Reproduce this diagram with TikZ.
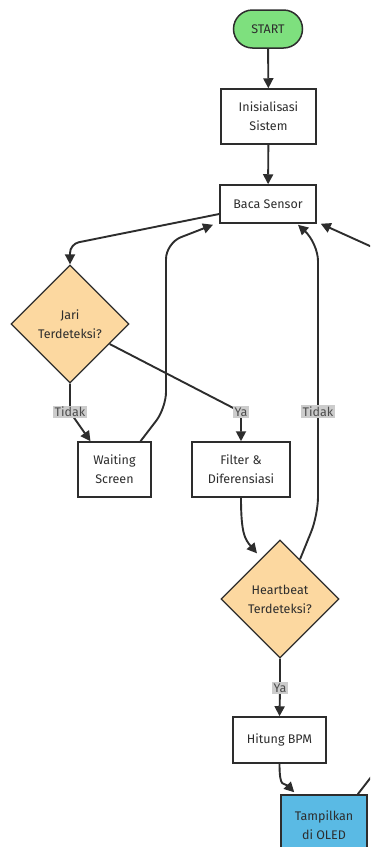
\documentclass[tikz,border=0pt]{standalone}
\usepackage{fontspec}
\setmainfont{Fira Sans}
\usetikzlibrary{shapes.geometric,arrows.meta}
\definecolor{startgreen}{RGB}{126,224,126}
\definecolor{checkorange}{RGB}{252,216,160}
\definecolor{oledblue}{RGB}{90,186,228}
\definecolor{labelgray}{RGB}{204,204,204}
\definecolor{ink}{RGB}{45,45,45}
\begin{document}
\begin{tikzpicture}[
      x=1pt, y=-1pt,
      every node/.style={font=\fontsize{12.5}{19}\selectfont, text=ink, align=center},
      terminal/.style={rectangle, rounded corners=19pt, draw=ink, line width=1.5pt, fill=startgreen, minimum width=69, minimum height=38},
      box/.style={rectangle, draw=ink, line width=1.5pt, fill=white},
      check/.style={diamond, draw=ink, line width=1.3pt, fill=checkorange, minimum width=118, minimum height=118, inner sep=0pt},
      flow/.style={draw=ink, line width=1.9pt, -{Triangle[length=10pt,width=10pt]}},
      lbl/.style={sharp corners, fill=labelgray, text=ink!85, inner sep=1.5pt, font=\fontsize{12.5}{14}\selectfont}
    ]
    \useasboundingbox (0,0) rectangle (370,847);
    \clip (0,0) rectangle (370,847);

    % nodes
    \node[terminal] (start) at (268,29) {START};
    \node[box, minimum width=95, minimum height=55] (init) at (268.5,116.5) {Inisialisasi\\Sistem};
    \node[box, minimum width=96, minimum height=38] (baca) at (268,204) {Baca Sensor};
    \node[check] (jari) at (70,324) {Jari\\Terdeteksi?};
    \node[box, minimum width=73, minimum height=55] (wait) at (114.5,469.5) {Waiting\\Screen};
    \node[box, minimum width=98, minimum height=55] (filter) at (241,469.5) {Filter \&\\Diferensiasi};
    \node[check] (heart) at (280,599) {Heartbeat\\Terdeteksi?};
    \node[box, minimum width=93, minimum height=46] (bpm) at (279.5,740) {Hitung BPM};
    \node[box, fill=oledblue, minimum width=86, minimum height=60] (oled) at (324,825) {Tampilkan\\di OLED};

    % connectors
    \draw[flow] (start) -- (init);
    \draw[flow] (init) -- (baca);
    \draw[flow, rounded corners=9pt] ([shift={(0,10)}]baca.west) -- (70,244) -- (jari.north);
    \draw[flow] (jari.south) -- (70,412) node[lbl] {Tidak} -- ([shift={(-24,0)}]wait.north);
    \draw[flow, rounded corners=16pt] ([shift={(26,0)}]wait.north) -- (166,408) -- (166,243) -- ([shift={(-55,1)}]baca.south);
    \draw[flow] ([shift={(-20,20)}]jari.east) -- (241,412) node[lbl] {Ya} -- (filter.north);
    \draw[flow] (filter.south) .. controls +(0,36) and +(-12,-14) .. ([shift={(-23,14)}]heart.north);
    \draw[flow, rounded corners=18pt] ([shift={(20,20)}]heart.north) -- (318,515) -- node[lbl, pos=0.379] {Tidak} (318,243) -- ([shift={(30,1)}]baca.south);
    \draw[flow] (heart.south) -- (280,688) node[lbl] {Ya} -- (bpm.north);
    \draw[flow] (bpm.south) .. controls +(0,26) and +(-10,-10) .. ([shift={(14,-2)}]oled.north west);
    \draw[flow, rounded corners=14pt] ([shift={(-10,0)}]oled.north east) -- (392,750) -- (392,256) -- ([shift={(4,0)}]baca.south east);

\end{tikzpicture}
\end{document}
